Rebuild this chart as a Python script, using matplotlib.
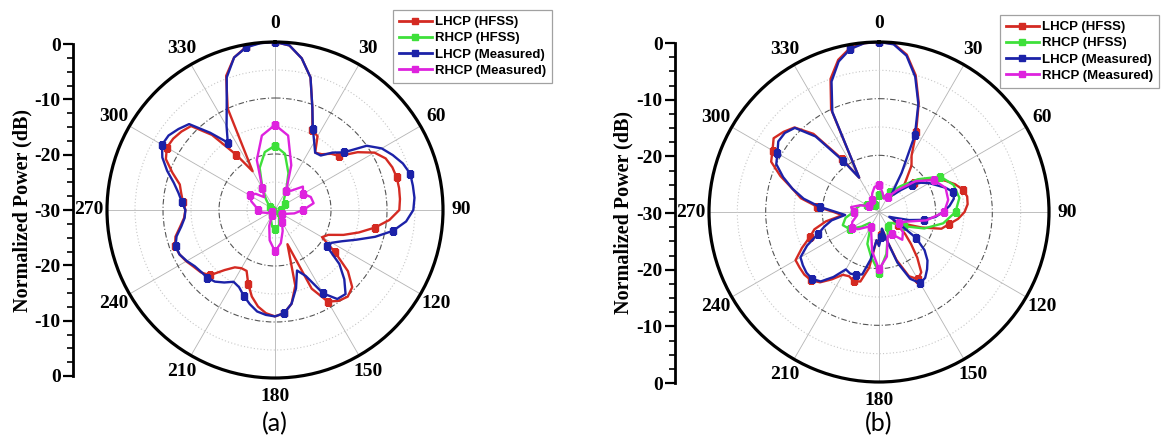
import numpy as np
import matplotlib
matplotlib.use("Agg")
import matplotlib.pyplot as plt
from matplotlib.lines import Line2D

# ---------------- data ----------------
ang5 = list(range(0, 360, 5))    # degrees, LHCP samples
ang10 = list(range(0, 360, 10))  # degrees, RHCP samples

# Panel (a)
a_lhcp_hfss = [0, -0.5, -2.5, -5.5, -10.5, -14.2, -14.8, -17.5, -17.0, -15.8, -15.0, -12.0,
               -9.5, -8.2, -7.7, -7.5, -7.5, -7.6, -7.8, -9.5, -11.9, -14.5, -17.0, -19.5,
               -20.3, -17.0, -13.0, -10.5, -9.8, -10.2, -11.1, -14.5, -23.5, -16.0, -13.0, -11.5,
               -11.0, -11.5, -12.5, -14.0, -16.0, -18.0, -18.0, -17.5, -16.0, -13.5, -12.7, -12.3,
               -11.7, -11.2, -11.0, -11.6, -12.8, -13.7, -14.0, -13.5, -13.0, -12.4, -10.5, -8.5,
               -7.7, -7.8, -8.2, -8.8, -12.5, -18.0, -22.0, -10.0, -4.5, -1.8, -0.4, 0.0]
a_lhcp_meas = [0, -0.5, -2.5, -5.5, -10.5, -14.0, -16.0, -17.5, -17.3, -15.5, -14.0, -10.0,
               -8.0, -6.8, -5.7, -5.0, -5.0, -5.0, -5.3, -6.5, -8.6, -11.5, -14.5, -16.8,
               -18.3, -18.7, -15.0, -12.5, -10.4, -10.6, -12.8, -17.0, -18.5, -15.5, -13.0, -11.5,
               -11.0, -11.2, -11.6, -12.6, -13.7, -14.8, -15.2, -14.2, -13.3, -12.9, -12.8, -12.5,
               -11.8, -11.2, -11.1, -11.8, -13.0, -13.8, -14.0, -13.3, -12.5, -11.3, -9.5, -7.8,
               -6.7, -6.8, -7.5, -8.3, -12.0, -15.3, -12.7, -9.6, -4.8, -1.8, -0.5, -0.1]
a_rhcp_hfss = [-18.5, -19.8, -23.0, -26.0, -27.5, -27.8, -28.0, -28.2, -28.5, -29.0, -29.0, -29.0,
               -29.0, -29.0, -28.5, -28.0, -27.5, -27.0, -26.6, -27.0, -28.0, -29.0, -29.5, -29.5,
               -29.5, -29.5, -29.5, -29.5, -29.5, -29.5, -29.0, -28.5, -27.5, -25.5, -22.0, -19.5]
a_rhcp_meas = [-14.8, -16.5, -21.5, -26.0, -25.5, -23.5, -24.2, -23.2, -23.0, -25.0, -26.5, -28.0,
               -28.5, -29.0, -28.5, -27.5, -26.0, -24.0, -22.6, -24.5, -27.0, -29.0, -29.5, -29.5,
               -29.3, -28.5, -27.5, -27.0, -26.5, -25.5, -24.8, -25.5, -27.0, -25.5, -20.5, -16.5]

# Panel (b)
b_lhcp_hfss = [0, -0.2, -1.8, -5.0, -9.5, -14.5, -18.5, -20.0, -22.5, -24.0, -22.0, -20.0,
               -18.3, -17.0, -15.7, -14.7, -14.2, -14.3, -14.9, -16.0, -17.5, -18.6, -22.0, -25.0,
               -27.0, -26.0, -24.0, -22.0, -19.5, -17.0, -16.3, -17.5, -21.0, -25.0, -27.0, -26.0,
               -24.5, -25.0, -20.0, -17.3, -17.0, -17.5, -17.2, -15.5, -13.8, -13.0, -12.8, -12.9,
               -13.0, -15.0, -17.0, -18.2, -20.5, -23.5, -22.0, -19.0, -16.0, -14.2, -11.5, -9.0,
               -8.3, -7.3, -8.0, -8.9, -12.0, -18.5, -23.0, -10.0, -5.0, -2.2, -0.6, -0.1]
b_lhcp_meas = [0, -0.3, -2.0, -5.3, -9.7, -15.0, -22.0, -26.0, -26.0, -24.5, -22.5, -21.0,
               -19.8, -18.8, -17.5, -16.4, -16.6, -17.5, -18.7, -20.0, -22.0, -24.5, -27.0, -28.0,
               -26.0, -22.0, -19.5, -17.9, -16.8, -15.8, -15.5, -17.0, -20.5, -25.0, -27.0, -25.5,
               -24.0, -25.0, -21.5, -18.6, -18.2, -18.0, -18.3, -16.0, -14.0, -13.3, -13.3, -13.6,
               -14.0, -16.0, -18.5, -20.0, -21.5, -24.0, -22.4, -19.5, -16.5, -14.2, -12.0, -10.0,
               -9.3, -8.3, -8.3, -9.0, -12.6, -19.0, -23.0, -10.5, -5.5, -2.5, -0.8, -0.1]
b_rhcp_hfss = [-27.0, -27.5, -27.0, -26.0, -24.0, -21.0, -17.5, -16.0, -15.6, -16.5, -18.5, -21.5,
               -25.0, -27.0, -27.5, -27.0, -25.5, -22.5, -19.3, -22.0, -24.0, -27.0, -27.5, -26.0,
               -24.0, -23.2, -24.0, -25.5, -26.0, -26.5, -27.5, -28.0, -28.5, -28.5, -28.0, -27.5]
b_rhcp_meas = [-25.2, -26.5, -27.5, -27.0, -25.0, -21.5, -18.8, -17.5, -17.6, -18.5, -21.5, -25.0,
               -26.0, -24.5, -23.6, -25.5, -25.5, -22.0, -19.9, -23.0, -26.0, -27.0, -26.5, -25.3,
               -24.4, -25.0, -26.0, -25.5, -25.0, -26.5, -28.0, -28.5, -28.0, -27.5, -26.5, -25.5]

series_labels = ["LHCP (HFSS)", "RHCP (HFSS)", "LHCP (Measured)", "RHCP (Measured)"]
colors = ["#d42a22", "#3ee03a", "#1c22a8", "#de22de"]
angle_ticks = list(range(0, 360, 30))
left_tick_labels = ["0", "-10", "-20", "-30", "-20", "-10", "0"]
captions = ["(a)", "(b)"]

# ---------------- figure ----------------
W, H = 1166, 443
fig = plt.figure(figsize=(W / 100, H / 100), dpi=100)
fig.patch.set_facecolor("white")

serif_b = dict(family="Liberation Serif", weight="bold")


def px(x0, y0, w, h):
    return [x0 / W, 1 - (y0 + h) / H, w / W, h / H]


def closed(a, v):
    t = np.radians(list(a) + [a[0]])
    return t, list(v) + [v[0]]


def make_panel(cx, cy, R, axis_x, axis_top, axis_bot, label_x, leg_xy, cap_xy, data, cap):
    ax = fig.add_axes(px(cx - R, cy - R, 2 * R, 2 * R), projection="polar")
    ax.set_theta_zero_location("N")
    ax.set_theta_direction(-1)
    ax.set_rlim(-30, 0)
    ax.set_yticks([-20, -10])
    ax.set_yticks([-25, -15, -5], minor=True)
    ax.set_yticklabels([])
    ax.yaxis.grid(True, which="major", color="#555555", linestyle=(0, (5, 2, 1, 2)), linewidth=0.8)
    ax.yaxis.grid(True, which="minor", color="#c8c8c8", linestyle=(0, (1, 2)), linewidth=0.8)
    ax.set_xticks(np.radians(angle_ticks))
    ax.set_xticklabels([str(a) for a in angle_ticks], fontsize=14, **serif_b)
    ax.set_xticks(np.radians(list(range(0, 360, 10))), minor=True)
    ax.xaxis.grid(True, which="major", color="#b4b4b4", linestyle="-", linewidth=0.6)
    ax.xaxis.grid(False, which="minor")
    ax.tick_params(axis="x", which="major", direction="in", length=8, width=1.5, pad=6)
    ax.tick_params(axis="x", which="minor", direction="in", length=4, width=1.0)
    ax.spines["polar"].set_linewidth(2.3)
    ax.spines["polar"].set_color("black")

    handles = []
    for (a, v), lab, col in zip(data, series_labels, colors):
        t, r = closed(a, v)
        me = 5 if len(a) == 72 else 3
        ax.plot(t, r, color=col, linewidth=1.7, marker="s", markersize=4, markevery=me)
        handles.append(Line2D([], [], color=col, linewidth=2.0, marker="s", markersize=4, label=lab))

    leg = ax.legend(handles=handles, loc="upper left", bbox_to_anchor=(leg_xy[0] / W, 1 - leg_xy[1] / H),
                    bbox_transform=fig.transFigure, prop=dict(family="Liberation Sans", weight="bold", size=9.5),
                    frameon=True, fancybox=False, borderpad=0.45, labelspacing=0.3, numpoints=1,
                    handlelength=2.5, handletextpad=0.2, borderaxespad=0)
    fr = leg.get_frame()
    fr.set_edgecolor("#8a8a8a")
    fr.set_linewidth(0.9)

    # left linear axis
    lax = fig.add_axes(px(axis_x, axis_top, 1, axis_bot - axis_top))
    lax.set_ylim(-30, 30)
    lax.set_xlim(0, 1)
    for s in ["top", "right", "bottom"]:
        lax.spines[s].set_visible(False)
    lax.spines["left"].set_linewidth(2)
    lax.set_xticks([])
    lax.set_yticks([30, 20, 10, 0, -10, -20, -30])
    lax.set_yticklabels(left_tick_labels, fontsize=14, **serif_b)
    lax.set_yticks(list(np.arange(-30, 30.1, 2.5)), minor=True)
    lax.tick_params(axis="y", which="major", direction="out", length=7, width=1.6, pad=2)
    lax.tick_params(axis="y", which="minor", direction="out", length=4, width=1.2)
    lax.patch.set_visible(False)

    fig.text(label_x / W, 1 - cy / H, "Normalized Power (dB)", rotation=90, ha="center", va="center",
             fontsize=14.5, **serif_b)
    fig.text(cap_xy[0] / W, 1 - cap_xy[1] / H, cap, ha="center", va="center", fontsize=18,
             family="Lato")
    return ax


data_a = [(ang5, a_lhcp_hfss), (ang10, a_rhcp_hfss), (ang5, a_lhcp_meas), (ang10, a_rhcp_meas)]
data_b = [(ang5, b_lhcp_hfss), (ang10, b_rhcp_hfss), (ang5, b_lhcp_meas), (ang10, b_rhcp_meas)]

make_panel(275, 210, 168, 73, 44, 376, 22, (393, 10), (275, 424), data_a, captions[0])
make_panel(879, 212, 170, 675, 43, 383, 623, (1000, 15), (879, 424), data_b, captions[1])

fig.savefig("out.png", dpi=100, facecolor="white")
